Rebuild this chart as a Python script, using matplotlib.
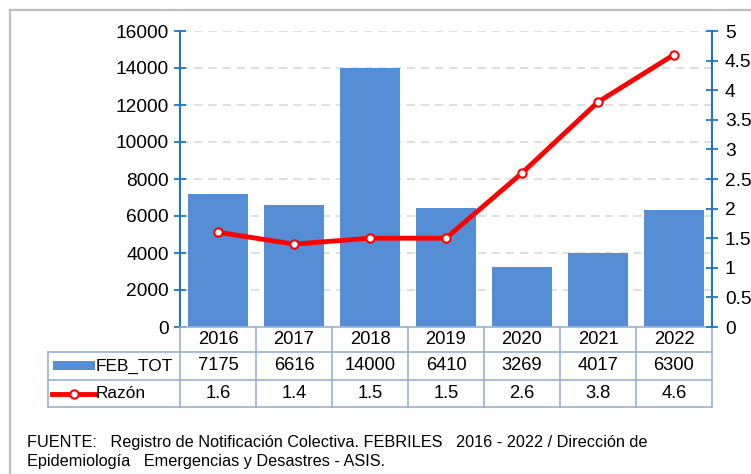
import matplotlib
matplotlib.use("Agg")
import matplotlib.pyplot as plt
from matplotlib import font_manager
from matplotlib.lines import Line2D
from matplotlib.patches import Rectangle

years = ["2016", "2017", "2018", "2019", "2020", "2021", "2022"]
feb_tot = [7175, 6616, 14000, 6410, 3269, 4017, 6300]
razon = [1.6, 1.4, 1.5, 1.5, 2.6, 3.8, 4.6]
left_ticks = [0, 2000, 4000, 6000, 8000, 10000, 12000, 14000, 16000]
right_ticks = [0, 0.5, 1, 1.5, 2, 2.5, 3, 3.5, 4, 4.5, 5]
right_labels = ["0", "0.5", "1", "1.5", "2", "2.5", "3", "3.5", "4", "4.5", "5"]
series_names = ["FEB_TOT", "Razón"]
footer = ("FUENTE:   Registro de Notificación Colectiva. FEBRILES   2016 - 2022 / Dirección de\n"
          "Epidemiología   Emergencias y Desastres - ASIS.")

names = {f.name for f in font_manager.fontManager.ttflist}
base = "Liberation Sans" if "Liberation Sans" in names else "DejaVu Sans"
narrow = "Liberation Sans Narrow" if "Liberation Sans Narrow" in names else base
plt.rcParams["font.family"] = [base, "DejaVu Sans"]

W, H = 751, 474
fig = plt.figure(figsize=(W / 100, H / 100), dpi=100)

def fx(px):
    return px / W

def fy(py):
    return 1 - py / H

# outer frame
fig.add_artist(Line2D([fx(10), fx(10)], [fy(10), 0], color="#BFBFBF", lw=1.6))
fig.add_artist(Line2D([fx(10), 1], [fy(10), fy(10)], color="#BFBFBF", lw=1.6))

ax_l, ax_r, ax_t, ax_b = 180, 712, 31, 327
ax = fig.add_axes([fx(ax_l), fy(ax_b), fx(ax_r - ax_l), (ax_b - ax_t) / H])
bar_color = "#558ED5"
axis_blue = "#1F77C4"
grid_col = "#D9D9D9"
tbl_col = "#95B3D7"
fs = 13.2

x = list(range(len(years)))
ax.bar(x, feb_tot, width=0.8, color=bar_color, zorder=2)
ax.set_xlim(-0.5, len(years) - 0.5)
ax.set_ylim(0, 16000)
ax.set_yticks(left_ticks)
ax.set_yticklabels([str(t) for t in left_ticks])
ax.set_xticks([])
for t in left_ticks[1:]:
    ax.axhline(t, color=grid_col, lw=1.2, ls=(0, (5, 3.5)), zorder=1)
for s in ["top", "right"]:
    ax.spines[s].set_visible(False)
ax.spines["left"].set_color(axis_blue)
ax.spines["left"].set_linewidth(1.5)
ax.spines["bottom"].set_color(tbl_col)
ax.spines["bottom"].set_linewidth(1.2)
ax.tick_params(axis="y", direction="inout", length=8.5, width=1.3, color=axis_blue,
               labelsize=fs + 0.6, pad=4)

ax2 = ax.twinx()
ax2.set_ylim(0, 5)
ax2.set_yticks(right_ticks)
ax2.set_yticklabels(right_labels)
for s in ["top", "left", "bottom"]:
    ax2.spines[s].set_visible(False)
ax2.spines["right"].set_color(axis_blue)
ax2.spines["right"].set_linewidth(1.5)
ax2.tick_params(axis="y", direction="inout", length=8.5, width=1.3, color=axis_blue,
                labelsize=fs + 0.6, pad=5)
ax2.plot(x, razon, color="#FF0000", lw=3.5, marker="o", markersize=6,
         markerfacecolor="white", markeredgecolor="#FF0000", markeredgewidth=1.5,
         zorder=3, clip_on=False)

# data table below axes
tr = ax.get_xaxis_transform()
axh = ax_b - ax_t
def ay(py):
    return (ax_b - py) / axh

row_edges = [ay(327), ay(352), ay(380), ay(407)]
for i, yr in enumerate(years):
    ax.text(i, (row_edges[0] + row_edges[1]) / 2, yr, transform=tr, ha="center",
            va="center", fontsize=fs, clip_on=False)
    ax.text(i, (row_edges[1] + row_edges[2]) / 2, str(feb_tot[i]), transform=tr,
            ha="center", va="center", fontsize=fs, clip_on=False)
    ax.text(i, (row_edges[2] + row_edges[3]) / 2, f"{razon[i]:.1f}", transform=tr,
            ha="center", va="center", fontsize=fs, clip_on=False)

# vertical lines for data columns
for k in range(len(years) + 1):
    xv = k - 0.5
    ax.add_line(Line2D([xv, xv], [row_edges[0], row_edges[3]], transform=tr,
                       color=tbl_col, lw=1.2, clip_on=False))
# horizontal lines
for ry in row_edges[1:]:
    fig.add_artist(Line2D([fx(48), fx(ax_r)], [fy(ax_b) + ry * axh / H] * 2,
                          color=tbl_col, lw=1.2))
fig.add_artist(Line2D([fx(48), fx(48)],
                      [fy(ax_b) + row_edges[1] * axh / H, fy(ax_b) + row_edges[3] * axh / H],
                      color=tbl_col, lw=1.2))

# legend keys in label column
r1 = fy(366)
r2 = fy(394)
fig.add_artist(Rectangle((fx(53), fy(370)), fx(42), 9 / H, facecolor=bar_color,
                         edgecolor="none"))
fig.text(fx(96), r1, series_names[0], ha="left", va="center", fontsize=12.4)
fig.add_artist(Line2D([fx(52), fx(96)], [r2, r2], color="#FF0000", lw=3.5))
fig.add_artist(Line2D([fx(74)], [r2], marker="o", markersize=6, markerfacecolor="white",
                      markeredgecolor="#FF0000", markeredgewidth=1.5, lw=0))
fig.text(fx(96), r2, series_names[1], ha="left", va="center", fontsize=12.4)

fig.text(fx(27), fy(452), footer, ha="left", va="center", fontsize=11.7,
         family=[narrow, "DejaVu Sans"], linespacing=1.3)

fig.savefig("out.png", dpi=100)
